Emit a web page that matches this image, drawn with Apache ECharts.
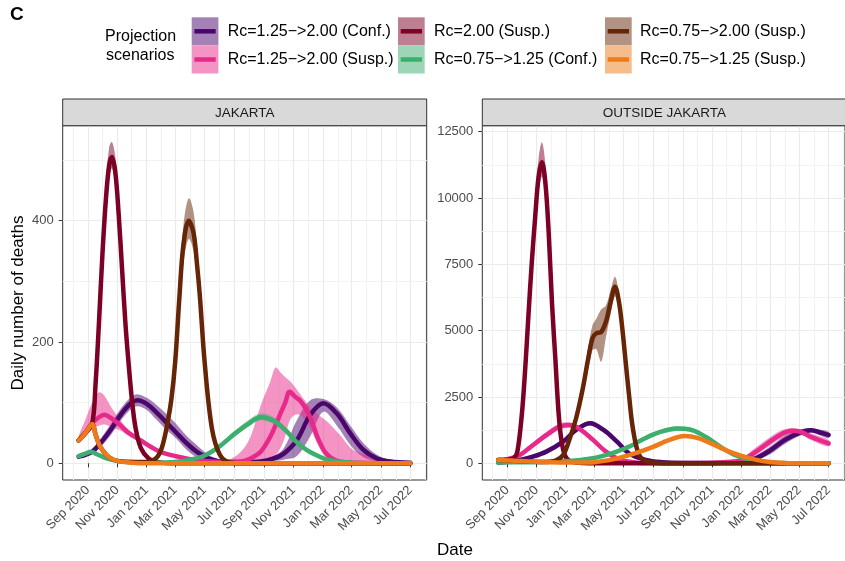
<!DOCTYPE html>
<html><head><meta charset="utf-8">
<script src="https://cdn.jsdelivr.net/npm/echarts@6/dist/echarts.min.js"></script>
<style>html,body{margin:0;padding:0;background:#fff}#c{width:845px;height:561px}</style>
</head><body><div id="c"></div>
<script>
const FONT = '"Liberation Sans", Arial, Helvetica, sans-serif';

// ---------- legend / scenarios ----------
const scenarioNames = [
  'Rc=1.25\u2212>2.00 (Conf.)', 'Rc=1.25\u2212>2.00 (Susp.)', 'Rc=2.00 (Susp.)',
  'Rc=0.75\u2212>1.25 (Conf.)', 'Rc=0.75\u2212>2.00 (Susp.)', 'Rc=0.75\u2212>1.25 (Susp.)'
];
const scenarioColors = ['#4a066b', '#e7298a', '#7d0025', '#3cae6e', '#662506', '#ef7a1a'];
const panelNames = ['JAKARTA', 'OUTSIDE JAKARTA'];

// ---------- axes ----------
const xTickDates = ['2020-09-01','2020-11-01','2021-01-01','2021-03-01','2021-05-01','2021-07-01',
  '2021-09-01','2021-11-01','2022-01-01','2022-03-01','2022-05-01','2022-07-01'];
const xTickLabels = ['Sep 2020','Nov 2020','Jan 2021','Mar 2021','May 2021','Jul 2021',
  'Sep 2021','Nov 2021','Jan 2022','Mar 2022','May 2022','Jul 2022'];
const xMinorDates = ['2020-08-01','2020-10-01','2020-12-01','2021-02-01','2021-04-01','2021-06-01',
  '2021-08-01','2021-10-01','2021-12-01','2022-02-01','2022-04-01','2022-06-01','2022-08-01'];
const xRange = ['2020-07-11', '2022-08-04'];
const jakYTicks = [0, 200, 400];
const jakYMinor = [100, 300, 500];
const jakYRange = [-27.5, 556.7];
const outYTicks = [0, 2500, 5000, 7500, 10000, 12500];
const outYMinor = [1250, 3750, 6250, 8750, 11250];
const outYRange = [-630, 12726];

// ---------- JAKARTA data ----------
const jakPurpleDates = ['2020-08-13','2020-08-27','2020-09-10','2020-09-27','2020-10-18','2020-11-08','2020-11-29','2020-12-13','2021-01-01','2021-01-20','2021-02-10','2021-03-04','2021-03-25','2021-04-15','2021-05-13','2021-06-15','2021-07-20','2021-08-25','2021-09-21','2021-10-12','2021-11-08','2021-12-06','2022-01-02','2022-01-30','2022-02-27','2022-03-26','2022-04-23','2022-05-20','2022-07-01'];
const jakPurpleMid = [11,14,19,33,55,80,99,104,98,85,68,50,33,19,7,2,2,3,8,16,38,80,99,82,49,22,8,3,1];
const jakPurpleLo  = [10,12,16,27,46,70,89,94,88,73,56,40,22,10,4,1,1,2,4,6,12,45,85,62,30,10,3,1,0];
const jakPurpleHi  = [12,16,23,40,64,90,109,114,108,97,82,64,45,30,12,4,3,5,12,25,71,104,106,92,62,33,14,5,1];

const jakPinkDates = ['2020-08-13','2020-08-27','2020-09-10','2020-09-24','2020-10-05','2020-10-20','2020-11-07','2020-11-25','2020-12-19','2021-01-10','2021-01-29','2021-03-12','2021-04-15','2021-05-15','2021-06-20','2021-07-16','2021-08-04','2021-08-25','2021-09-14','2021-09-25','2021-10-05','2021-10-15','2021-10-24','2021-11-04','2021-11-14','2021-11-25','2021-12-05','2021-12-14','2021-12-22','2022-01-08','2022-02-04','2022-03-10','2022-07-01'];
const jakPinkMid = [38,50,66,76,80,74,63,50,38,27,19,10,5,3,2,3,8,19,44,63,82,100,118,110,104,92,77,58,41,16,3,1,0];
const jakPinkLo  = [36,45,56,62,64,60,54,45,35,25,17,8,4,2,1,1,2,4,8,14,25,45,70,80,80,72,60,44,30,10,2,0,0];
const jakPinkHi  = [45,72,100,117,112,92,72,55,42,30,21,12,6,4,6,20,44,95,135,158,150,142,136,126,115,103,92,85,80,70,48,20,1];

const jakRedDates = ['2020-08-13','2020-08-27','2020-09-10','2020-09-17','2020-09-24','2020-10-01','2020-10-08','2020-10-15','2020-10-21','2020-10-28','2020-11-04','2020-11-11','2020-11-18','2020-11-25','2020-12-02','2020-12-09','2020-12-20','2021-01-05','2021-01-25','2021-03-01','2022-07-01'];
const jakRedMid = [38,50,65,130,230,340,430,490,505,480,410,320,230,160,100,58,25,8,2,0,0];
const jakRedLo  = [36,47,61,122,217,322,410,470,486,460,392,305,218,151,94,54,22,7,1,0,0];
const jakRedHi  = [40,53,70,140,245,360,455,520,530,505,432,338,244,170,107,63,28,9,3,0,0];

const jakGreenDates = ['2020-08-13','2020-08-27','2020-09-08','2020-09-20','2020-10-10','2020-11-01','2020-12-01','2021-01-15','2021-03-01','2021-04-01','2021-05-01','2021-06-01','2021-07-01','2021-08-01','2021-08-25','2021-09-21','2021-10-15','2021-11-05','2021-11-25','2021-12-20','2022-01-10','2022-02-10','2022-04-01','2022-07-01'];
const jakGreenMid = [12,16,19,15,8,4,2,1,2,6,13,28,48,66,76,70,55,37,24,13,6,2,0,0];
const jakGreenLo  = [11,14,17,13,7,3,2,1,2,5,11,25,43,61,71,65,50,33,21,11,5,2,0,0];
const jakGreenHi  = [13,18,22,17,9,5,2,1,3,7,15,32,53,72,82,76,60,41,27,15,7,3,0,0];

const jakBrownDates = ['2020-08-13','2020-08-27','2020-09-10','2020-09-17','2020-09-24','2020-10-01','2020-10-15','2020-11-01','2020-12-01','2021-01-01','2021-01-20','2021-02-01','2021-02-11','2021-02-21','2021-03-01','2021-03-10','2021-03-18','2021-03-29','2021-04-08','2021-04-15','2021-04-21','2021-05-01','2021-05-16','2021-06-01','2021-06-20','2021-07-15','2022-07-01'];
const jakBrownMid = [38,50,65,48,32,22,10,4,2,2,8,25,58,105,167,277,360,400,380,330,277,167,58,15,2,0,0];
const jakBrownLo  = [36,47,61,45,30,21,9,4,2,2,7,22,52,95,152,255,330,370,350,305,257,155,53,13,2,0,0];
const jakBrownHi  = [40,53,69,51,34,23,11,4,2,2,9,28,64,115,183,300,392,437,415,358,298,180,63,17,2,0,0];

const jakOrangeDates = ['2020-08-13','2020-08-20','2020-08-27','2020-09-03','2020-09-10','2020-09-17','2020-09-24','2020-10-01','2020-10-15','2020-11-01','2020-12-01','2021-01-01','2022-07-01'];
const jakOrangeMid = [38,43,50,58,65,48,32,22,10,4,1,0,0];
const jakOrangeLo  = [36,40,46,53,59,43,29,20,9,4,1,0,0];
const jakOrangeHi  = [40,46,54,63,71,53,35,24,11,4,1,0,0];

// ---------- OUTSIDE JAKARTA data ----------
const outPurpleDates = ['2020-08-13','2020-09-01','2020-09-27','2020-10-24','2020-11-21','2020-12-26','2021-01-22','2021-02-20','2021-03-20','2021-04-17','2021-05-12','2021-06-16','2021-07-20','2021-09-01','2021-11-01','2021-12-01','2022-01-01','2022-02-01','2022-03-01','2022-04-01','2022-05-01','2022-05-25','2022-06-15','2022-07-01'];
const outPurpleMid = [30,60,126,251,440,816,1256,1508,1256,816,377,126,40,10,10,30,70,200,480,880,1150,1250,1150,1070];
const outPurpleLo  = [26,53,113,228,400,750,1170,1420,1170,750,345,112,35,8,6,20,40,120,340,730,1030,1160,1040,950];
const outPurpleHi  = [35,68,140,275,480,880,1340,1590,1340,880,410,140,45,12,15,50,120,310,620,1040,1270,1330,1260,1180];

const outPinkDates = ['2020-08-13','2020-09-01','2020-09-27','2020-10-24','2020-11-21','2020-12-19','2021-01-08','2021-01-29','2021-02-25','2021-03-25','2021-04-21','2021-05-20','2021-06-20','2021-08-01','2021-10-01','2021-11-01','2021-12-01','2022-01-01','2022-01-28','2022-02-24','2022-03-23','2022-04-15','2022-05-05','2022-05-25','2022-07-01'];
const outPinkMid = [120,150,310,680,1060,1380,1440,1300,900,440,150,40,10,5,10,20,50,120,400,750,1080,1230,1180,1000,750];
const outPinkLo  = [110,130,260,590,950,1270,1340,1200,810,380,120,30,7,3,6,12,30,70,280,600,930,1120,1080,880,640];
const outPinkHi  = [130,175,370,780,1180,1500,1540,1400,990,500,180,50,13,7,15,30,80,200,560,920,1230,1320,1270,1120,870];

const outRedDates = ['2020-08-13','2020-09-01','2020-09-15','2020-09-22','2020-10-01','2020-10-08','2020-10-15','2020-10-22','2020-10-29','2020-11-05','2020-11-12','2020-11-19','2020-11-26','2020-12-03','2020-12-10','2020-12-17','2020-12-24','2021-01-02','2021-01-20','2021-03-01','2022-07-01'];
const outRedMid = [120,130,200,450,1800,3500,5600,7600,9300,10800,11350,10600,8700,6000,3900,1800,700,200,30,0,0];
const outRedLo  = [115,122,185,410,1650,3250,5200,7100,8700,10200,10800,10000,8200,5650,3650,1650,630,170,25,0,0];
const outRedHi  = [125,138,215,490,1950,3750,6000,8100,9900,11500,12100,11300,9200,6350,4150,1950,770,230,35,0,0];

const outGreenDates = ['2020-08-13','2020-10-01','2020-12-01','2021-01-15','2021-02-15','2021-03-15','2021-04-15','2021-05-15','2021-06-01','2021-07-01','2021-07-25','2021-08-20','2021-09-20','2021-10-20','2021-11-20','2021-12-20','2022-01-20','2022-02-20','2022-03-20','2022-05-01','2022-07-01'];
const outGreenMid = [30,40,60,100,160,260,430,650,820,1080,1230,1310,1250,980,600,300,130,50,15,3,0];
const outGreenLo  = [25,35,52,88,142,230,385,590,750,1000,1140,1220,1160,900,540,265,110,40,12,2,0];
const outGreenHi  = [35,45,68,112,178,290,475,710,890,1160,1320,1400,1340,1060,660,335,150,60,18,4,0];

const outBrownDates = ['2020-08-13','2020-09-15','2020-10-15','2020-11-15','2020-12-10','2020-12-26','2021-01-09','2021-01-22','2021-02-05','2021-02-15','2021-02-25','2021-03-05','2021-03-15','2021-03-25','2021-04-04','2021-04-13','2021-04-21','2021-04-28','2021-05-05','2021-05-12','2021-05-20','2021-06-02','2021-06-20','2021-07-20','2022-07-01'];
const outBrownMid = [120,100,70,45,100,313,942,1696,2827,3830,4711,4900,4950,5337,6091,6657,6091,5088,3830,2574,1319,313,60,5,0];
const outBrownLo  = [115,95,66,42,90,280,840,1500,2550,3450,4250,4300,3830,4750,5650,6300,5800,4850,3620,2400,1220,280,50,4,0];
const outBrownHi  = [125,105,74,48,110,350,1050,1900,3150,4250,5200,5450,5800,5950,6550,7030,6400,5350,4050,2750,1430,350,70,6,0];

const outOrangeDates = ['2020-08-13','2020-09-15','2020-10-15','2020-11-15','2020-12-15','2021-01-15','2021-02-15','2021-03-01','2021-04-01','2021-05-01','2021-06-01','2021-07-01','2021-08-01','2021-09-05','2021-10-01','2021-11-01','2021-12-01','2022-01-01','2022-02-01','2022-03-01','2022-04-01','2022-05-01','2022-07-01'];
const outOrangeMid = [120,100,70,45,30,25,30,40,120,250,420,620,860,1030,960,730,480,280,130,50,15,5,0];
const outOrangeLo  = [115,95,66,42,28,23,27,36,110,230,390,580,810,970,900,680,445,260,120,45,13,4,0];
const outOrangeHi  = [125,105,74,48,32,27,33,44,130,270,450,660,910,1090,1020,780,515,300,140,55,17,6,0];

// ---------- build ----------
function t(s){const p=s.split('-');return new Date(+p[0],+p[1]-1,+p[2]).getTime();}
function pairs(dates, vals){return dates.map((d,i)=>[t(d), vals[i]]);}
function rgba(hex,a){const n=parseInt(hex.slice(1),16);return 'rgba('+((n>>16)&255)+','+((n>>8)&255)+','+(n&255)+','+a+')';}

const panelSets = [
  [
    [jakPurpleDates, jakPurpleMid, jakPurpleLo, jakPurpleHi],
    [jakPinkDates, jakPinkMid, jakPinkLo, jakPinkHi],
    [jakRedDates, jakRedMid, jakRedLo, jakRedHi],
    [jakGreenDates, jakGreenMid, jakGreenLo, jakGreenHi],
    [jakBrownDates, jakBrownMid, jakBrownLo, jakBrownHi],
    [jakOrangeDates, jakOrangeMid, jakOrangeLo, jakOrangeHi]
  ],
  [
    [outPurpleDates, outPurpleMid, outPurpleLo, outPurpleHi],
    [outPinkDates, outPinkMid, outPinkLo, outPinkHi],
    [outRedDates, outRedMid, outRedLo, outRedHi],
    [outGreenDates, outGreenMid, outGreenLo, outGreenHi],
    [outBrownDates, outBrownMid, outBrownLo, outBrownHi],
    [outOrangeDates, outOrangeMid, outOrangeLo, outOrangeHi]
  ]
];

const SMOOTH = 0.35;
const LW = 4.5;
const gridLefts = [62.7, 482.3];
const GRID_TOP = 125.7, GRID_W = 364, GRID_H = 354.3;

const xTickTimes = xTickDates.map(t);
const xMinorTimes = xMinorDates.map(t);
const labelMap = {};
xTickTimes.forEach((v,i)=>{labelMap[v]=xTickLabels[i];});

const grids = [], xAxes = [], yAxes = [], series = [];
const yConf = [[jakYTicks, jakYMinor, jakYRange],[outYTicks, outYMinor, outYRange]];

function bandSeries(p, k, dates, lo, hi) {
  const rows = dates.map((d,i)=>[t(d), lo[i], hi[i]]);
  return {
    type: 'custom', xAxisIndex: p*2, yAxisIndex: p*2, silent: true, z: 2, clip: true,
    data: rows, encode: {x: 0, y: [1, 2]},
    renderItem: function(params, api) {
      if (params.dataIndex !== 0) return null;
      const up = rows.map(r => api.coord([r[0], r[2]]));
      const dn = rows.map(r => api.coord([r[0], r[1]])).reverse();
      return {
        type: 'polygon',
        shape: {points: up.concat(dn), smooth: SMOOTH},
        style: {fill: rgba(scenarioColors[k], 0.5), stroke: null}
      };
    }
  };
}

for (let p = 0; p < 2; p++) {
  grids.push({left: gridLefts[p], top: GRID_TOP, width: GRID_W, height: GRID_H,
    show: true, borderColor: '#333333', borderWidth: 1, backgroundColor: '#ffffff', containLabel: false});
  xAxes.push({type: 'value', gridIndex: p, min: t(xRange[0]), max: t(xRange[1]),
    axisLine: {show: false},
    axisTick: {show: true, length: 4, lineStyle: {color: '#333333', width: 1}, customValues: xTickTimes},
    axisLabel: {customValues: xTickTimes, rotate: 45, fontSize: 13, color: '#4d4d4d', fontFamily: FONT, margin: 8,
      formatter: function(v){return labelMap[v] || '';}, hideOverlap: false},
    splitLine: {show: true, lineStyle: {color: '#ebebeb', width: 1.2}}});
  xAxes.push({type: 'value', gridIndex: p, min: t(xRange[0]), max: t(xRange[1]), position: 'bottom',
    axisLine: {show: false}, axisTick: {show: false, customValues: xMinorTimes},
    axisLabel: {show: false, customValues: xMinorTimes},
    splitLine: {show: true, lineStyle: {color: '#f2f2f2', width: 1}}});
  const yc = yConf[p];
  yAxes.push({type: 'value', gridIndex: p, min: yc[2][0], max: yc[2][1],
    axisLine: {show: false},
    axisTick: {show: true, length: 4, lineStyle: {color: '#333333', width: 1}, customValues: yc[0]},
    axisLabel: {customValues: yc[0], fontSize: 13, color: '#4d4d4d', fontFamily: FONT, margin: 9,
      formatter: function(v){return String(v);}},
    splitLine: {show: true, lineStyle: {color: '#ebebeb', width: 1.2}}});
  yAxes.push({type: 'value', gridIndex: p, min: yc[2][0], max: yc[2][1], position: 'left',
    axisLine: {show: false}, axisTick: {show: false, customValues: yc[1]},
    axisLabel: {show: false, customValues: yc[1]},
    splitLine: {show: true, lineStyle: {color: '#f2f2f2', width: 1}}});

  const sets = panelSets[p];
  sets.forEach((s, k) => {
    const [dates, mid, lo, hi] = s;
    series.push(bandSeries(p, k, dates, lo, hi));
  });
  sets.forEach((s, k) => {
    const [dates, mid] = s;
    series.push({type: 'line', name: scenarioNames[k], xAxisIndex: p*2, yAxisIndex: p*2, data: pairs(dates, mid),
      symbol: 'none', smooth: SMOOTH, silent: true,
      lineStyle: {color: scenarioColors[k], width: LW, cap: 'round', join: 'round'}, z: 3});
  });
}

const graphic = [];
for (let p = 0; p < 2; p++) {
  graphic.push({type: 'rect', shape: {x: gridLefts[p], y: 99, width: GRID_W, height: GRID_TOP - 99},
    style: {fill: '#d9d9d9', stroke: '#333333', lineWidth: 1}, z: 10});
  graphic.push({type: 'text', x: gridLefts[p] + GRID_W/2, y: (99 + GRID_TOP)/2 + 0.5,
    style: {text: panelNames[p], fill: '#1a1a1a', font: '13.5px ' + FONT, textAlign: 'center', textVerticalAlign: 'middle'}, z: 11});
}
graphic.push({type: 'text', x: 10, y: 15, style: {text: 'C', fill: '#000', font: 'bold 19px ' + FONT, textAlign: 'left', textVerticalAlign: 'middle'}});
graphic.push({type: 'text', x: 105, y: 37, style: {text: 'Projection', fill: '#000', font: '16px ' + FONT, textAlign: 'left', textVerticalAlign: 'middle'}});
graphic.push({type: 'text', x: 106, y: 56, style: {text: 'scenarios', fill: '#000', font: '16px ' + FONT, textAlign: 'left', textVerticalAlign: 'middle'}});
const keyX = [191.7, 398, 605], textX = [227.7, 434, 640], rowY = [17.3, 45.5];
const KEY_W = 26.7, KEY_H = 28;
for (let k = 0; k < 6; k++) {
  const col = Math.floor(k / 2), row = k % 2;
  const x = keyX[col], y = rowY[row];
  graphic.push({type: 'rect', shape: {x: x, y: y, width: KEY_W, height: KEY_H}, style: {fill: rgba(scenarioColors[k], 0.5)}});
  graphic.push({type: 'line', shape: {x1: x + 2.7, y1: y + KEY_H/2, x2: x + KEY_W - 2.7, y2: y + KEY_H/2},
    style: {stroke: scenarioColors[k], lineWidth: LW}});
  graphic.push({type: 'text', x: textX[col], y: y + KEY_H/2 + 0.5,
    style: {text: scenarioNames[k], fill: '#000', font: '16px ' + FONT, textAlign: 'left', textVerticalAlign: 'middle'}});
}
graphic.push({type: 'text', x: 18, y: 303, rotation: Math.PI/2,
  style: {text: 'Daily number of deaths', fill: '#000', font: '17px ' + FONT, textAlign: 'center', textVerticalAlign: 'middle'}});
graphic.push({type: 'text', x: 455, y: 550,
  style: {text: 'Date', fill: '#000', font: '17px ' + FONT, textAlign: 'center', textVerticalAlign: 'middle'}});

const chart = echarts.init(document.getElementById('c'), null, {renderer: 'canvas'});
chart.setOption({
  animation: false,
  backgroundColor: '#ffffff',
  grid: grids, xAxis: xAxes, yAxis: yAxes, series: series, graphic: graphic
});
</script></body></html>
